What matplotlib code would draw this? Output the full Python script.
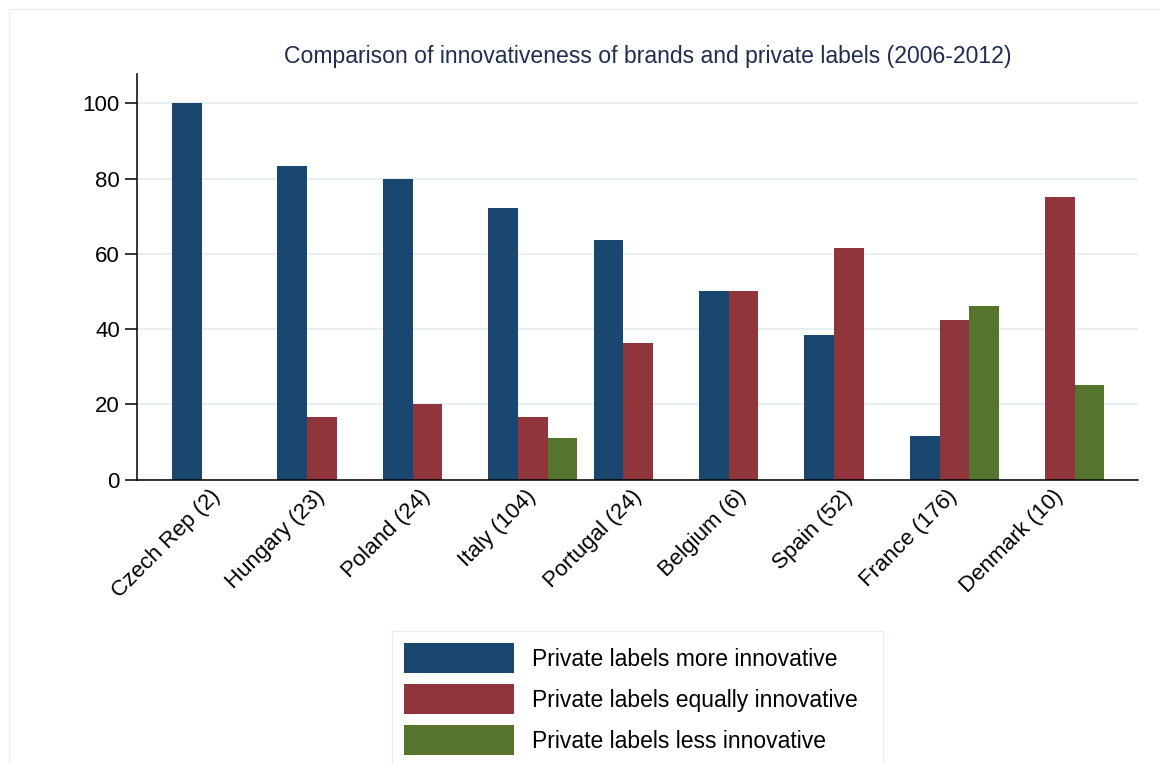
import matplotlib
matplotlib.use("Agg")
import matplotlib.pyplot as plt
import numpy as np
from matplotlib.patches import Rectangle, Patch

plt.rcParams['font.family'] = ['Liberation Sans', 'DejaVu Sans']

countries = ["Czech Rep (2)", "Hungary (23)", "Poland (24)", "Italy (104)", "Portugal (24)",
             "Belgium (6)", "Spain (52)", "France (176)", "Denmark (10)"]
more_innov = [100, 83.3, 80.0, 72.2, 63.6, 50.0, 38.5, 11.5, 0]
equal_innov = [0, 16.7, 20.0, 16.7, 36.4, 50.0, 61.5, 42.3, 75.0]
less_innov = [0, 0, 0, 11.1, 0, 0, 0, 46.2, 25.0]
series_labels = ["Private labels more innovative", "Private labels equally innovative",
                 "Private labels less innovative"]
colors = ["#1a476f", "#90353b", "#55752f"]
yticks = [0, 20, 40, 60, 80, 100]
title = "Comparison of innovativeness of brands and private labels (2006-2012)"

W, H = 1159, 764
fig = plt.figure(figsize=(W / 100, H / 100), dpi=100)

# outer graph region border
fig.patches.append(Rectangle((9 / W, -0.5), 2, 0.5 + 1 - 9 / H, transform=fig.transFigure,
                             fill=False, edgecolor="#e8eef0", linewidth=1.0, zorder=0))

ax = fig.add_axes([137 / W, 1 - 479.5 / H, (1138 - 137) / W, (479.5 - 74) / H])
x = np.arange(len(countries))
bw = 0.2818
for k, vals in enumerate([more_innov, equal_innov, less_innov]):
    ax.bar(x + (k - 1) * bw, vals, width=bw, color=colors[k], linewidth=0, zorder=3,
           label=series_labels[k])

ax.set_xlim(-0.755, 8.742)
ax.set_ylim(0, 107.8)
ax.set_yticks(yticks)
ax.set_yticklabels([str(v) for v in yticks], fontsize=16)
ax.set_xticks(x)
ax.set_xticklabels(countries, fontsize=16, rotation=45, ha="right", va="center",
                   rotation_mode="anchor")
ax.tick_params(axis="x", length=0, pad=10)
ax.tick_params(axis="y", length=8.4, width=1.1, pad=4, colors="black")
ax.grid(axis="y", color="#e8eff1", linewidth=1.5, zorder=0)
ax.set_axisbelow(True)
for s in ["top", "right"]:
    ax.spines[s].set_visible(False)
for s in ["left", "bottom"]:
    ax.spines[s].set_linewidth(1.1)
    ax.spines[s].set_color("black")
    ax.spines[s].set_zorder(4)

fig.text(648 / W, 1 - 57 / H, title, fontsize=16.6, color="#1f2d50", ha="center", va="center")

# legend box
fig.patches.append(Rectangle((392 / W, -0.5), (883 - 392) / W, 0.5 + (764 - 631) / H,
                             transform=fig.transFigure, facecolor="white",
                             edgecolor="#e8eef0", linewidth=1.0, zorder=1))
handles = [Patch(facecolor=c, edgecolor="none") for c in colors]
fs = 16.5
px = fs * 100 / 72
leg = fig.legend(handles, series_labels, loc="upper left",
                 bbox_to_anchor=(404 / W, 1 - 643.3 / H), frameon=False, fontsize=fs,
                 borderpad=0, borderaxespad=0, handlelength=110 / px, handleheight=1.638,
                 handletextpad=18 / px, labelspacing=11 / px)
leg.set_zorder(5)

fig.savefig("out.png", dpi=100, facecolor="white")
